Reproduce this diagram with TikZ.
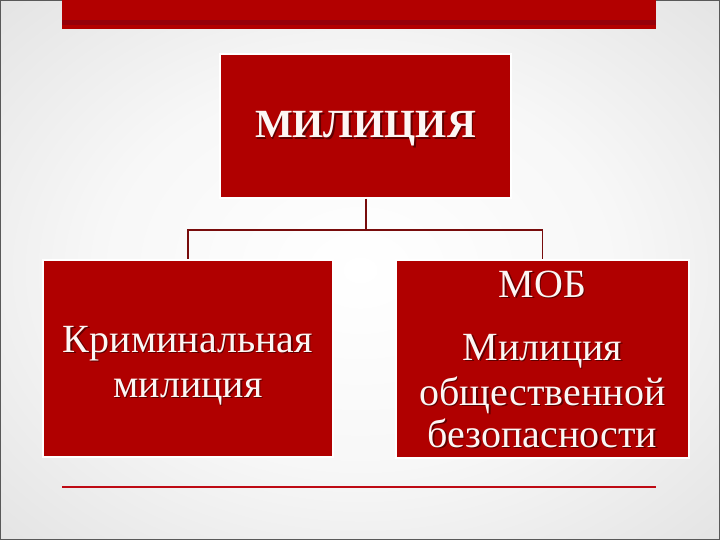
\documentclass[tikz,border=0pt]{standalone}
\usepackage{fontspec}
\setmainfont{Liberation Serif}
\definecolor{boxred}{RGB}{176,0,0}
\definecolor{bandred}{RGB}{178,0,0}
\definecolor{banddark}{RGB}{150,0,10}
\definecolor{connred}{RGB}{120,12,12}
\definecolor{linered}{RGB}{190,10,20}
\definecolor{txtwhite}{RGB}{252,246,244}
\pgfdeclareradialshading{bgshade}{\pgfpoint{0bp}{0bp}}{color(0bp)=(white); color(18bp)=(white!97!black); color(50bp)=(black!17); color(72bp)=(black!22)}
\tikzset{
  box/.style={rectangle, fill=boxred, draw=white, line width=1.5pt, inner sep=0pt},
  conn/.style={draw=connred, line width=1.6pt},
  wt/.style={text=txtwhite, anchor=base, inner sep=0pt},
  shd/.style={text=black, opacity=0.45, anchor=base, inner sep=0pt},
  big/.style={font=\fontsize{40}{45}\selectfont},
  title/.style={font=\fontsize{40}{45}\selectfont\bfseries}
}
\newcommand\mytxt[5]{%
  \node[shd,#5] (#1s) at ({#2+1.3},{#3+1.3}) {#4};
  \node[wt,#5] (#1) at (#2,#3) {#4};}
\begin{document}
\begin{tikzpicture}[x=1pt,y=-1pt]
\useasboundingbox (0,0) rectangle (720,540);
\shade[shading=bgshade] (0,0) rectangle (720,540);
\draw[black!65, line width=1pt] (0.5,0.5) rectangle (719.5,539.5);
% top band
\fill[bandred] (62,0) rectangle (656,29);
\fill[banddark] (62,20) rectangle (656,25);
% boxes
\node[box, minimum width=291pt, minimum height=144pt] (top) at (365.5,126) {};
\node[box, minimum width=290pt, minimum height=197pt] (left) at (188,358.5) {};
\node[box, minimum width=293pt, minimum height=198pt] (right) at (542.5,359) {};
% connectors
\coordinate (j) at (366,230);
\draw[conn] (top.south -| j) -- (j);
\draw[conn] (j) -| (left.north);
\draw[conn] (j) -| (right.north);
% bottom line
\coordinate (bl) at (62,487);
\coordinate (br) at (656,487);
\draw[draw=linered, line width=2pt] (bl) -- (br);
% texts
\mytxt{t1}{365.5}{138}{МИЛИЦИЯ}{title}
\mytxt{l1}{188}{352}{Криминальная}{big}
\mytxt{l2}{188}{397}{милиция}{big}
\mytxt{r1}{542.5}{297}{МОБ}{big}
\mytxt{r2}{542.5}{360}{Милиция}{big}
\mytxt{r3}{542.5}{405}{общественной}{big}
\mytxt{r4}{542.5}{447}{безопасности}{big}
\end{tikzpicture}
\end{document}
